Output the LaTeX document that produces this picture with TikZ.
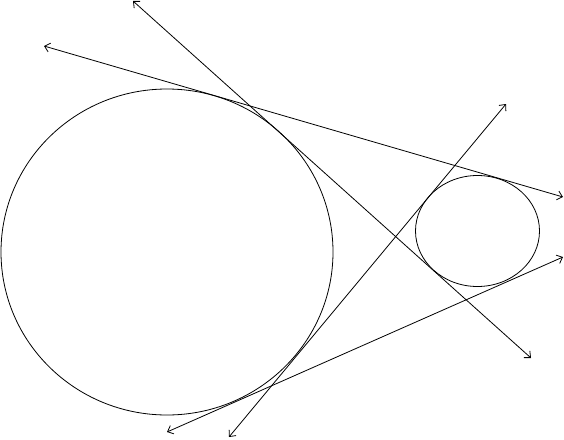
\documentclass[tikz,border=0pt]{standalone}
\usepackage{amsmath}
\usetikzlibrary{arrows.meta,shapes.geometric}

\begin{document}
\begin{tikzpicture}[x=1pt, y=-1pt, line width=0.8pt]
\useasboundingbox (0,0) rectangle (564,439);
\tikzset{tangent/.style={{Straight Barb[length=5pt,width=9pt]}-{Straight Barb[length=5pt,width=9pt]}}}
\node[draw, ellipse, line width=0.8pt, minimum width=332pt, minimum height=326pt, inner sep=0pt] (big) at (167, 252) {};
\node[draw, ellipse, line width=0.8pt, minimum width=124pt, minimum height=111pt, inner sep=0pt] (small) at (477.5, 231) {};

\coordinate (a1) at (44, 46);
\coordinate (a2) at (563, 197);
\coordinate (b1) at (133, 1);
\coordinate (b2) at (531, 358);
\coordinate (c1) at (229, 437);
\coordinate (c2) at (506, 104);
\coordinate (d1) at (167, 432);
\coordinate (d2) at (563, 257);
\draw[tangent] (a1) -- (a2);
\draw[tangent] (b1) -- (b2);
\draw[tangent] (c1) -- (c2);
\draw[tangent] (d1) -- (d2);

\end{tikzpicture}
\end{document}
